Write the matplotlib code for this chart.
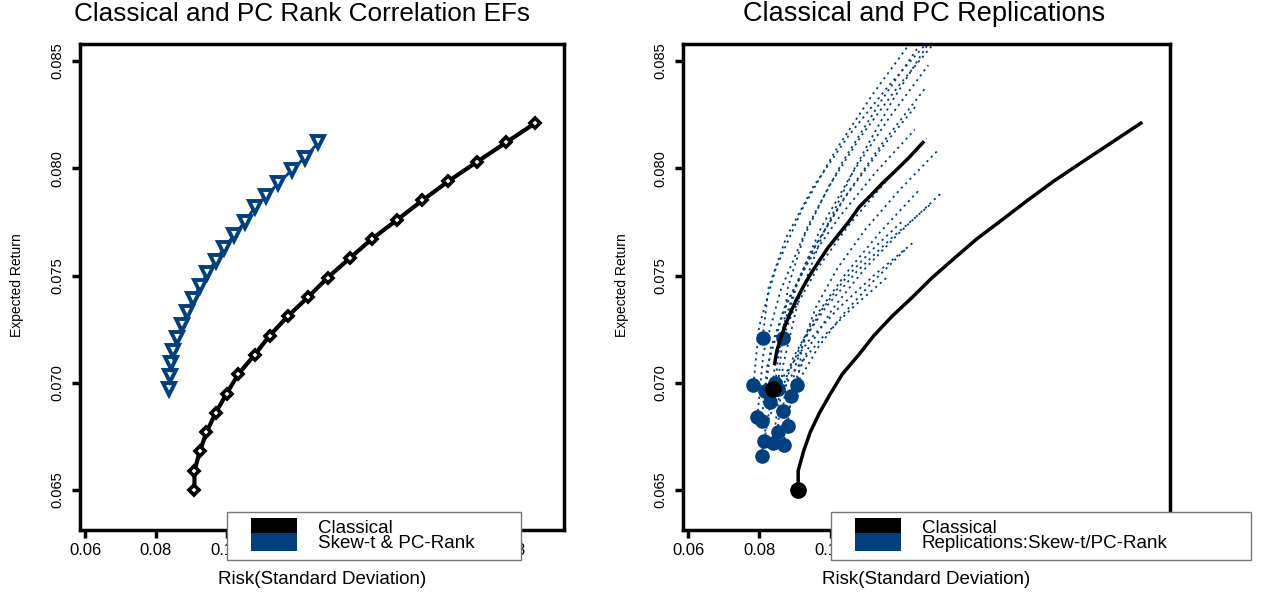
import matplotlib
matplotlib.use("Agg")
import matplotlib.pyplot as plt
from matplotlib.patches import Patch, Rectangle
from matplotlib.legend_handler import HandlerPatch
import numpy as np

plt.rcParams['font.family'] = ['Liberation Sans', 'DejaVu Sans']

BLUE = '#00407f'

# ---------------- data ----------------
classical_risk = [0.0909, 0.0909, 0.0924, 0.0943, 0.0969, 0.1000, 0.1033, 0.1079, 0.1122, 0.1173,
                  0.1231, 0.1286, 0.1348, 0.1411, 0.1483, 0.1554, 0.1628, 0.1709, 0.1791, 0.1873]
classical_ret = [0.0650, 0.0659, 0.0668, 0.0677, 0.0686, 0.0695, 0.0704, 0.0713, 0.0722, 0.0731,
                 0.0740, 0.0749, 0.0758, 0.0767, 0.0776, 0.0785, 0.0794, 0.0803, 0.0812, 0.0821]

skewt_risk = [0.0838, 0.0841, 0.0843, 0.0849, 0.0860, 0.0873, 0.0888, 0.0905, 0.0924, 0.0945,
              0.0969, 0.0993, 0.1022, 0.1051, 0.1081, 0.1111, 0.1146, 0.1184, 0.1221, 0.1260]
skewt_ret = [0.0697, 0.0703, 0.0709, 0.0715, 0.0721, 0.0727, 0.0733, 0.0739, 0.0745, 0.0751,
             0.0757, 0.0763, 0.0769, 0.0775, 0.0782, 0.0787, 0.0793, 0.0799, 0.0805, 0.0812]

# replicated frontiers (risk, return), first point = minimum-variance portfolio
rep_risk = [
    [0.0783, 0.0799, 0.0846, 0.0919, 0.1012, 0.1120, 0.1240],
    [0.0794, 0.0811, 0.0860, 0.0936, 0.1033, 0.1146, 0.1270],
    [0.0809, 0.0826, 0.0876, 0.0952, 0.1050, 0.1164, 0.1290],
    [0.0865, 0.0880, 0.0925, 0.0995, 0.1086, 0.1192, 0.1310],
    [0.0851, 0.0866, 0.0910, 0.0979, 0.1069, 0.1173, 0.1290],
    [0.0806, 0.0822, 0.0869, 0.0942, 0.1035, 0.1144, 0.1265],
    [0.0845, 0.0859, 0.0898, 0.0961, 0.1042, 0.1138, 0.1245],
    [0.0817, 0.0832, 0.0874, 0.0940, 0.1025, 0.1125, 0.1237],
    [0.0831, 0.0846, 0.0891, 0.0960, 0.1049, 0.1154, 0.1270],
    [0.0879, 0.0894, 0.0938, 0.1006, 0.1094, 0.1199, 0.1315],
    [0.0865, 0.0879, 0.0921, 0.0988, 0.1073, 0.1174, 0.1287],
    [0.0839, 0.0853, 0.0894, 0.0958, 0.1042, 0.1140, 0.1250],
    [0.0814, 0.0829, 0.0871, 0.0938, 0.1024, 0.1125, 0.1237],
    [0.0868, 0.0879, 0.0912, 0.0965, 0.1034, 0.1117, 0.1210],
    [0.0806, 0.0818, 0.0852, 0.0907, 0.0978, 0.1063, 0.1158],
    [0.0907, 0.0920, 0.0959, 0.1020, 0.1099, 0.1194, 0.1300],
    [0.0890, 0.0900, 0.0930, 0.0977, 0.1039, 0.1114, 0.1200],
    [0.0851, 0.0866, 0.0908, 0.0974, 0.1061, 0.1162, 0.1275],
]
rep_ret = [
    [0.0699, 0.07262, 0.07533, 0.07805, 0.08077, 0.08348, 0.0862],
    [0.0684, 0.07137, 0.07433, 0.0773, 0.08027, 0.08323, 0.0862],
    [0.0721, 0.07445, 0.0768, 0.07915, 0.0815, 0.08385, 0.0862],
    [0.0721, 0.07445, 0.0768, 0.07915, 0.0815, 0.08385, 0.0862],
    [0.0677, 0.07078, 0.07387, 0.07695, 0.08003, 0.08312, 0.0862],
    [0.0682, 0.07078, 0.07337, 0.07595, 0.07853, 0.08112, 0.0837],
    [0.0700, 0.07217, 0.07433, 0.0765, 0.07867, 0.08083, 0.0830],
    [0.0696, 0.07163, 0.07367, 0.0757, 0.07773, 0.07977, 0.0818],
    [0.0691, 0.07115, 0.0732, 0.07525, 0.0773, 0.07935, 0.0814],
    [0.0680, 0.06982, 0.07163, 0.07345, 0.07527, 0.07708, 0.0789],
    [0.0687, 0.07032, 0.07193, 0.07355, 0.07517, 0.07678, 0.0784],
    [0.0672, 0.06917, 0.07113, 0.0731, 0.07507, 0.07703, 0.0790],
    [0.0673, 0.06885, 0.0704, 0.07195, 0.0735, 0.07505, 0.0766],
    [0.0671, 0.06862, 0.07013, 0.07165, 0.07317, 0.07468, 0.0762],
    [0.0666, 0.06798, 0.06937, 0.07075, 0.07213, 0.07352, 0.0749],
    [0.0699, 0.07172, 0.07353, 0.07535, 0.07717, 0.07898, 0.0808],
    [0.0694, 0.07075, 0.0721, 0.07345, 0.0748, 0.07615, 0.0775],
    [0.0697, 0.07222, 0.07473, 0.07725, 0.07977, 0.08228, 0.0848],
]

xticks = [0.06, 0.08, 0.10, 0.12, 0.14, 0.16, 0.18]
yticks = [0.065, 0.070, 0.075, 0.080, 0.085]
xtick_labels = ['0.06', '0.08', '0.10', '0.12', '0.14', '0.16', '0.18']
ytick_labels = ['0.065', '0.070', '0.075', '0.080', '0.085']
xlim = (0.0585, 0.1955)
ylim = (0.06314, 0.08579)

titles = ['Classical and PC Rank Correlation EFs', 'Classical and PC Replications']
legend_labels = [['Classical', 'Skew-t & PC-Rank'],
                 ['Classical', 'Replications:Skew-t/PC-Rank']]

# ---------------- figure ----------------
W, H = 1271, 595
fig = plt.figure(figsize=(W / 100, H / 100), dpi=100)

def fx(px):
    return px / W

def fy(py):
    return 1 - py / H

ax1 = fig.add_axes([fx(80), fy(530), fx(564) - fx(80), fy(44) - fy(530)])
ax2 = fig.add_axes([fx(683), fy(530), fx(1170) - fx(683), fy(44) - fy(530)])

narrow = ['Liberation Sans Narrow', 'Liberation Sans', 'DejaVu Sans']

for ax in (ax1, ax2):
    ax.set_xlim(*xlim)
    ax.set_ylim(*ylim)
    ax.set_xticks(xticks)
    ax.set_xticklabels(xtick_labels, fontsize=12)
    ax.set_yticks(yticks)
    ax.set_yticklabels(ytick_labels, fontsize=10.5, rotation=90, va='center', family=narrow)
    ax.tick_params(axis='both', direction='out', length=6, width=2.5, pad=5)
    ax.tick_params(axis='x', pad=3.5)
    for s in ax.spines.values():
        s.set_linewidth(2.5)
        s.set_color('black')

# ---- left panel ----
ax1.plot(classical_risk, classical_ret, color='black', lw=3, zorder=2,
         marker='D', ms=5.5, mfc='white', mec='black', mew=2.6)
ax1.plot(skewt_risk, skewt_ret, color=BLUE, lw=2, zorder=3,
         marker='v', ms=8.5, mfc='white', mec=BLUE, mew=2.8)

# ---- right panel ----
for r, m in zip(rep_risk, rep_ret):
    ax2.plot(r, m, color=BLUE, lw=1.3, linestyle=(0, (1.2, 2.2)), zorder=2, clip_on=True)
for r, m in zip(rep_risk, rep_ret):
    ax2.plot(r[0], m[0], 'o', color=BLUE, ms=9.5, zorder=3)
ax2.plot(skewt_risk[2:], skewt_ret[2:], color='black', lw=2.5, zorder=4)
ax2.plot(classical_risk, classical_ret, color='black', lw=2.5, zorder=4)
ax2.plot(skewt_risk[0], skewt_ret[0], 'o', color='black', ms=11, zorder=5)
ax2.plot(classical_risk[0], classical_ret[0], 'o', color='black', ms=11, zorder=5)

# ---- titles / labels ----
fig.text(fx(302), fy(14), titles[0], ha='center', va='center', fontsize=18.8)
fig.text(fx(924), fy(14), titles[1], ha='center', va='center', fontsize=19.5)
fig.text(fx(322), fy(579), 'Risk(Standard Deviation)', ha='center', va='center', fontsize=13.5)
fig.text(fx(926), fy(579), 'Risk(Standard Deviation)', ha='center', va='center', fontsize=13.5)
fig.text(fx(17), fy(285), 'Expected Return', ha='center', va='center', fontsize=10,
         rotation=90, family=narrow)
fig.text(fx(622), fy(285), 'Expected Return', ha='center', va='center', fontsize=10,
         rotation=90, family=narrow)

# ---- legends ----
LEG_FS = 13.5


def swatch(legend, orig_handle, xdescent, ydescent, width, height, fontsize):
    # colour block at the right end of the handle box, tall enough to touch its neighbour
    w = 2.45 * fontsize
    return Rectangle((width - xdescent - w, -ydescent - 1.2), w, height + 2.4)


def add_legend(ax, labels, bx0, bx1, by0, by1):
    handles = [Patch(facecolor='black', edgecolor='none'),
               Patch(facecolor=BLUE, edgecolor='none')]
    leg = ax.legend(handles, labels, loc='upper left', mode='expand',
                    bbox_to_anchor=(fx(bx0), fy(by1), fx(bx1) - fx(bx0), fy(by0) - fy(by1)),
                    bbox_transform=fig.transFigure,
                    handler_map={Patch: HandlerPatch(patch_func=swatch)},
                    fontsize=LEG_FS, frameon=True, fancybox=False, framealpha=1,
                    edgecolor='#777777', labelspacing=-0.14, handlelength=3.35,
                    handleheight=0.8, handletextpad=1.1, borderpad=0.4,
                    borderaxespad=0)
    leg.get_frame().set_linewidth(1)
    leg.set_zorder(8)
    return leg

add_legend(ax1, legend_labels[0], 227, 521, 512, 559)
add_legend(ax2, legend_labels[1], 831, 1251, 512, 559)

fig.savefig('out.png', dpi=100)
